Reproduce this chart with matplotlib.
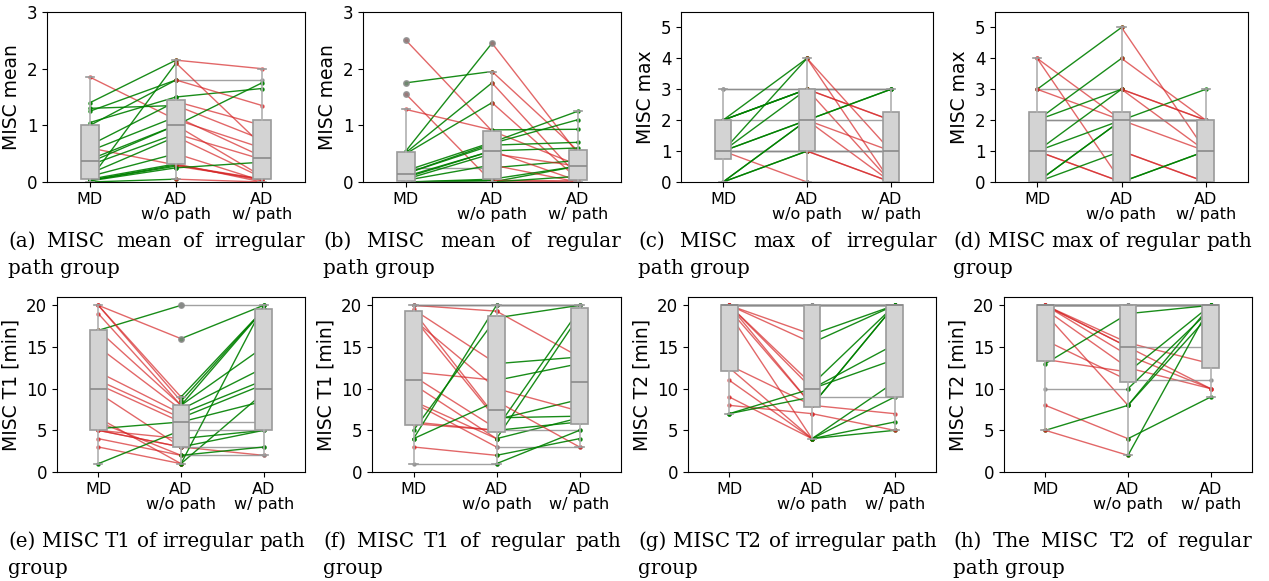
import numpy as np
import matplotlib
matplotlib.use("Agg")
import matplotlib.pyplot as plt

plt.rcParams["font.family"] = "DejaVu Sans"

W, H = 1269, 581
GROUPS = ["MD", "AD\nw/o path", "AD\nw/ path"]

# one entry per participant: value under MD, AD w/o path, AD w/ path
# (a) MISC mean, irregular path group
mean_irr_md = [1.85, 1.4, 1.3, 1.25, 1.05, 1.0, 0.65, 0.6, 0.55, 0.4,
               0.35, 0.3, 0.15, 0.1, 0.05, 0.05, 0.03, 0.03, 0.02, 0.0]
mean_irr_ado = [1.1, 2.15, 1.35, 1.8, 1.5, 1.8, 1.42, 0.3, 1.15, 1.0,
                1.0, 0.85, 0.8, 0.5, 2.1, 0.32, 0.3, 0.28, 0.25, 0.05]
mean_irr_adw = [0.6, 2.0, 0.75, 1.8, 1.65, 1.35, 1.0, 0.05, 0.45, 0.1,
                1.75, 0.4, 0.08, 0.02, 0.65, 0.0, 0.03, 0.05, 0.35, 0.0]

# (b) MISC mean, regular path group
mean_reg_md = [2.5, 1.75, 1.55, 0.55, 0.52, 0.5, 1.28, 0.25, 0.2, 0.15,
               0.15, 0.1, 0.08, 0.05, 0.03, 0.0, 0.0, 0.0, 0.0, 0.0]
mean_reg_ado = [0.9, 1.95, 0.0, 2.45, 1.75, 1.4, 0.92, 0.25, 0.7, 0.68,
                0.65, 0.55, 0.55, 0.5, 0.3, 0.05, 0.03, 0.02, 0.0, 0.0]
mean_reg_adw = [0.3, 0.55, 0.28, 0.5, 0.1, 0.05, 0.93, 0.38, 1.25, 1.1,
                0.7, 0.6, 0.02, 0.28, 0.0, 0.28, 0.02, 0.0, 0.1, 0.0]

# (c) MISC max, irregular path group
max_irr_md = [3, 3, 2, 2, 2, 2, 2, 1, 1, 1, 1, 1, 1, 1, 1, 0, 0, 0, 0, 0]
max_irr_ado = [3, 3, 3, 3, 3, 4, 2, 4, 3, 1, 2, 2, 1, 1, 0, 2, 2, 1, 1, 0]
max_irr_adw = [3, 3, 3, 2, 0, 1, 3, 0, 2, 1, 3, 0, 1, 0, 0, 1, 2, 1, 0, 0]

# (d) MISC max, regular path group
max_reg_md = [4, 4, 3, 3, 3, 2, 2, 2, 2, 1, 1, 1, 1, 1, 0, 0, 0, 0, 0, 0]
max_reg_ado = [2, 0, 5, 3, 2, 4, 3, 2, 2, 3, 2, 0, 1, 0, 2, 2, 1, 0, 0, 0]
max_reg_adw = [1, 0, 1, 2, 2, 2, 1, 2, 3, 2, 2, 1, 0, 0, 2, 2, 0, 1, 0, 0]

# (e) MISC T1 [min], irregular path group
t1_irr_md = [17, 20, 20, 20, 19, 17, 15, 12, 11, 10.5,
             9.5, 6.5, 6, 5.2, 5, 5, 5, 4, 3, 1]
t1_irr_ado = [20, 16, 9, 8.5, 8, 8, 7.5, 7, 6.5, 6,
              3, 1, 2, 6, 4, 3, 3, 2, 1, 5]
t1_irr_adw = [20, 20, 19.5, 19.5, 19.5, 15, 12.5, 11, 10.5, 6,
              2, 9.5, 2, 8.5, 5, 5, 3, 3, 20, 5]

# (f) MISC T1 [min], regular path group
t1_reg_md = [20, 20, 20, 20, 19.5, 19.3, 18.5, 18.3, 12, 11.5,
             10.5, 8.5, 8.3, 6, 5.8, 5, 4, 4, 3, 1]
t1_reg_ado = [20, 20, 19.3, 20, 13, 6.5, 6.3, 10, 11, 5.2,
              4, 4, 3, 5, 5, 18.5, 20, 8.5, 2, 1]
t1_reg_adw = [20, 20, 13.8, 20, 13.8, 6.7, 8.7, 7.3, 13, 19.5,
              6.5, 18.8, 3, 5, 6, 20, 20, 3, 4, 5]

# (g) MISC T2 [min], irregular path group
t2_irr_md = [20, 20, 20, 20, 20, 20, 20, 20, 20, 20,
             20, 19.5, 19, 12.8, 12.5, 11, 9, 8, 7, 7]
t2_irr_ado = [20, 20, 20, 20, 20, 20, 16.5, 15.5, 10.5, 10,
              8, 8, 4, 8, 4, 4, 4, 7, 10, 9]
t2_irr_adw = [20, 20, 20, 20, 20, 20, 20, 20, 20, 15.3,
              20, 20, 10.8, 7, 9, 6, 5, 5, 13.5, 9]

# (h) MISC T2 [min], regular path group
t2_reg_md = [20, 20, 20, 20, 20, 20, 20, 20, 20, 20,
             20, 19.5, 19, 15.8, 13.5, 13, 10, 8, 5, 5]
t2_reg_ado = [20, 20, 20, 20, 20, 20, 20, 15.5, 15, 14,
              15, 12.5, 8, 11, 12, 19, 10, 4, 8, 2]
t2_reg_adw = [20, 20, 20, 20, 20, 20, 20, 13, 10, 10,
              15, 10, 20, 11, 20, 20, 19.5, 9, 19, 20]

GREEN = "green"
RED = "tab:red"
GRAY = "#8a8a8a"


def draw_panel(ax, md, ado, adw, ylabel, ylim, yticks):
    vals = np.array([md, ado, adw], float)
    for s in range(vals.shape[1]):
        for k in range(2):
            y0, y1 = vals[k, s], vals[k + 1, s]
            if y1 > y0:
                col, a = GREEN, 0.9
            elif y1 < y0:
                col, a = RED, 0.7
            else:
                col, a = GRAY, 0.8
            ax.plot([k + 1, k + 2], [y0, y1], "-o", color=col, alpha=a,
                    lw=1.0, ms=2.2, zorder=2)
    ax.boxplot(vals.T, positions=[1, 2, 3], widths=0.2, patch_artist=True,
               zorder=3,
               boxprops=dict(facecolor="lightgray", edgecolor="#9a9a9a", lw=1.2),
               medianprops=dict(color="#8a8a8a", lw=1.2),
               whiskerprops=dict(color="#b0b0b0", lw=1.2),
               capprops=dict(color="#9a9a9a", lw=1.2),
               flierprops=dict(marker="o", markerfacecolor="#8a8a8a",
                               markeredgecolor="#8a8a8a", ms=4, alpha=0.8))
    ax.set_xlim(0.5, 3.5)
    ax.set_ylim(*ylim)
    ax.set_yticks(yticks)
    ax.set_xticks([1, 2, 3])
    ax.set_xticklabels(GROUPS, fontsize=11.5, linespacing=1.05)
    ax.tick_params(axis="y", labelsize=12)
    ax.set_ylabel(ylabel, fontsize=13.5)


def px_axes(fig, x0, x1, y0, y1):
    return fig.add_axes([x0 / W, 1 - y1 / H, (x1 - x0) / W, (y1 - y0) / H])


CAP = dict(family="DejaVu Serif", fontsize=14.3, va="baseline")


def caption(fig, x0, x1, yb, line1, line2, ls=27):
    # first line justified to the column width, second line flush left
    r = fig.canvas.get_renderer()
    words = line1.split()
    ts = [fig.text(0, 0, w, **CAP) for w in words]
    ws = [t.get_window_extent(r).width for t in ts]
    gap = (x1 - x0 - sum(ws)) / (len(words) - 1)
    x = x0
    for t, w in zip(ts, ws):
        t.set_position((x / W, 1 - yb / H))
        x += w + gap
    fig.text(x0 / W, 1 - (yb + ls) / H, line2, **CAP)


fig = plt.figure(figsize=(W / 100, H / 100), dpi=100)

panels = [
    ((47, 305, 12, 182), mean_irr_md, mean_irr_ado, mean_irr_adw, "MISC mean", (0, 3), [0, 1, 2, 3]),
    ((363, 621, 12, 182), mean_reg_md, mean_reg_ado, mean_reg_adw, "MISC mean", (0, 3), [0, 1, 2, 3]),
    ((681, 933, 12, 182), max_irr_md, max_irr_ado, max_irr_adw, "MISC max", (0, 5.5), range(6)),
    ((995, 1248, 12, 182), max_reg_md, max_reg_ado, max_reg_adw, "MISC max", (0, 5.5), range(6)),
    ((57, 305, 297, 472), t1_irr_md, t1_irr_ado, t1_irr_adw, "MISC T1 [min]", (0, 21), range(0, 21, 5)),
    ((372, 621, 297, 472), t1_reg_md, t1_reg_ado, t1_reg_adw, "MISC T1 [min]", (0, 21), range(0, 21, 5)),
    ((688, 936, 297, 472), t2_irr_md, t2_irr_ado, t2_irr_adw, "MISC T2 [min]", (0, 21), range(0, 21, 5)),
    ((1004, 1252, 297, 472), t2_reg_md, t2_reg_ado, t2_reg_adw, "MISC T2 [min]", (0, 21), range(0, 21, 5)),
]
for box, md, ado, adw, lab, yl, yt in panels:
    ax = px_axes(fig, *box)
    draw_panel(ax, md, ado, adw, lab, yl, yt)

cap_x = [(8, 305), (323, 621), (638, 937), (953, 1252)]
row1 = [("(a) MISC mean of irregular", "path group"),
        ("(b) MISC mean of regular", "path group"),
        ("(c) MISC max of irregular", "path group"),
        ("(d) MISC max of regular path", "group")]
row2 = [("(e) MISC T1 of irregular path", "group"),
        ("(f) MISC T1 of regular path", "group"),
        ("(g) MISC T2 of irregular path", "group"),
        ("(h) The MISC T2 of regular", "path group")]
for (x0, x1), (l1, l2) in zip(cap_x, row1):
    caption(fig, x0, x1, 247, l1, l2)
for (x0, x1), (l1, l2) in zip(cap_x, row2):
    caption(fig, x0, x1, 547, l1, l2)

fig.savefig("out.png", dpi=100)
